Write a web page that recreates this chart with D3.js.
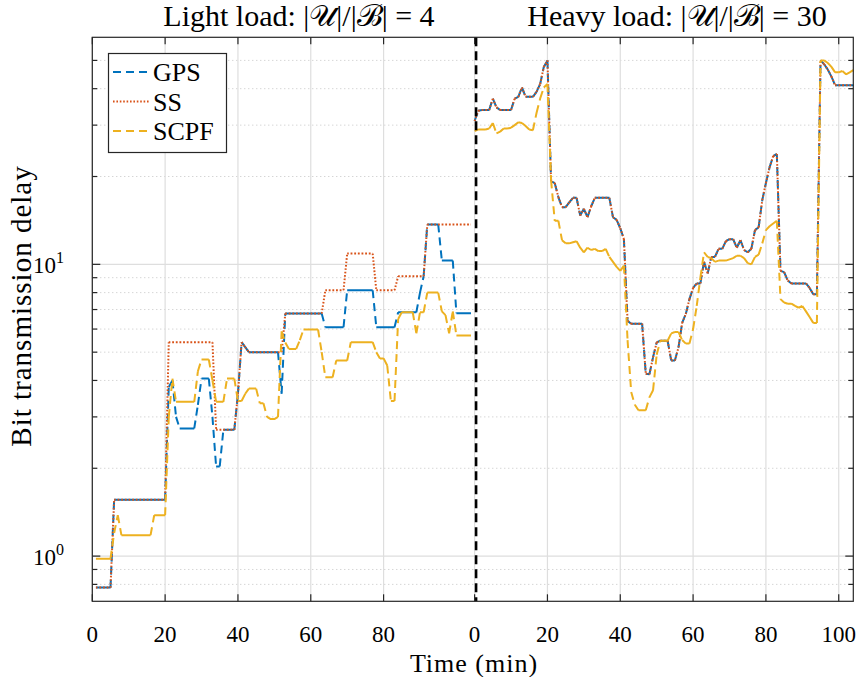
<!DOCTYPE html>
<html>
<head>
<meta charset="utf-8">
<script src="https://cdn.jsdelivr.net/npm/d3@7"></script>
<style>
body { margin: 0; background: #fff; }
svg text { font-family: "Liberation Serif", "DejaVu Serif", serif; fill: #000; }
</style>
</head>
<body>
<div id="chart"></div>
<script>
// one sample per minute; light load starts at t=1, heavy load at t=0
const lightStart = 1;
const heavyStart = 0;
const heavyOffset = 105;   // heavy load panel is drawn after the light one on a shared axis
const splitAt = 105.4;

const lightGPS = [0.78,0.78,0.78,0.78,0.78,
  1.56,1.56,1.56,1.56,1.56,1.56,1.56,1.56,1.56,1.56,1.56,1.56,1.56,1.56,1.56,
  3.8,4.0,3.0,2.74,2.74,2.74,2.74,2.74,3.3,4.06,4.06,4.06,3.0,2.03,2.03,
  2.71,2.71,2.71,2.71,3.6,5.41,5.2,5.0,5.0,5.0,5.0,5.0,5.0,5.0,5.0,5.0,3.6,
  6.78,6.78,6.78,6.78,6.78,6.78,6.78,6.78,6.78,6.78,6.78,
  6.09,6.09,6.09,6.09,6.09,6.09,8.15,8.15,8.15,8.15,8.15,8.15,8.15,8.15,
  6.09,6.09,6.09,6.09,6.09,6.09,6.85,6.85,6.85,6.85,6.85,6.85,8.0,9.1,
  13.7,13.7,13.7,13.7,10.3,10.3,10.3,10.3,6.8,6.8,6.8,6.8,6.8];

const lightSS = [0.78,0.78,0.78,0.78,0.78,
  1.56,1.56,1.56,1.56,1.56,1.56,1.56,1.56,1.56,1.56,1.56,1.56,1.56,1.56,1.56,
  5.41,5.41,5.41,5.41,5.41,5.41,5.41,5.41,5.41,5.41,5.41,5.41,5.41,
  2.71,2.71,2.71,2.71,2.71,2.71,3.6,5.41,5.2,
  5.0,5.0,5.0,5.0,5.0,5.0,5.0,5.0,5.0,5.0,
  6.78,6.78,6.78,6.78,6.78,6.78,6.78,6.78,6.78,6.78,6.78,
  8.15,8.15,8.15,8.15,8.15,8.15,10.89,10.89,10.89,10.89,10.89,10.89,10.89,10.89,
  8.15,8.15,8.15,8.15,8.15,8.15,9.1,9.1,9.1,9.1,9.1,9.1,9.1,9.1,
  13.7,13.7,13.7,13.7,13.7,13.7,13.7,13.7,13.7,13.7,13.7,13.7,13.7];

const lightSCPF = [0.98,0.98,0.98,0.98,0.98,1.2,1.38,
  1.18,1.18,1.18,1.18,1.18,1.18,1.18,1.18,1.18,1.38,1.38,1.38,1.38,
  3.0,4.06,3.38,3.38,3.38,3.38,3.38,3.38,4.3,4.72,4.72,4.72,4.0,3.38,3.38,3.38,
  4.06,4.06,4.06,3.4,3.4,3.6,3.75,3.75,3.75,3.34,3.34,3.0,2.95,2.95,3.0,
  5.9,5.4,5.13,5.13,5.13,5.5,5.98,5.98,5.98,5.98,5.98,5.0,4.1,4.1,4.1,
  4.68,4.68,4.68,4.68,5.41,5.41,5.41,5.41,5.41,5.41,5.41,5.0,4.76,4.76,4.5,
  3.4,3.4,6.5,6.85,6.85,6.85,6.85,5.8,6.85,6.85,8.0,8.0,8.0,8.0,
  6.9,6.7,5.8,6.9,5.7,5.7,5.7,5.7,5.7];

const heavyGPS = [31.0,33.6,33.8,33.8,33.8,37.0,34.5,33.8,33.8,33.8,33.8,37.0,37.5,40.4,37.5,37.5,37.5,39.0,41.5,47.5,
  50.0,19.3,19.0,17.0,15.7,15.7,16.3,16.9,16.9,14.7,15.5,14.5,15.8,16.9,16.9,16.9,16.9,16.9,14.5,14.2,
  13.3,12.2,6.4,6.26,6.26,6.26,6.26,4.22,4.2,4.8,5.4,5.47,5.47,5.47,4.68,4.68,5.2,6.3,6.76,7.6,
  8.3,8.6,8.6,10.2,9.3,10.6,10.6,11.3,11.3,12.0,12.2,12.2,11.4,12.1,11.2,11.0,11.3,13.1,13.4,16.6,
  19.0,21.5,23.5,23.9,9.5,9.4,8.8,8.6,8.6,8.6,8.6,8.6,8.3,7.9,7.9,50.0,48.5,46.5,44.0,41.1,
  41.1,41.1,41.1,41.1,41.1];

const heavySS = [31.0,33.6,33.8,33.8,33.8,37.0,34.5,33.8,33.8,33.8,33.8,37.0,37.5,40.4,37.5,37.5,37.5,39.0,41.5,47.5,
  50.0,19.3,19.0,17.0,15.7,15.7,16.3,16.9,16.9,14.7,15.5,14.5,15.8,16.9,16.9,16.9,16.9,16.9,14.5,14.2,
  13.3,12.2,6.4,6.26,6.26,6.26,6.26,4.22,4.2,4.8,5.4,5.47,5.47,5.47,4.68,4.68,5.2,6.3,6.76,7.6,
  8.3,8.6,8.6,10.2,9.3,10.6,10.6,11.3,11.3,12.0,12.2,12.2,11.4,12.1,11.2,11.0,11.3,13.1,13.4,16.6,
  19.0,21.5,23.5,23.9,9.5,9.4,8.8,8.6,8.6,8.6,8.6,8.6,8.3,7.9,7.9,50.0,48.5,46.5,44.0,41.1,
  41.1,41.1,41.1,41.1,41.1];

const heavySCPF = [28.6,29.0,29.0,29.0,29.2,30.5,28.1,28.5,29.2,29.2,29.4,30.0,30.7,30.5,29.8,29.0,28.8,33.0,37.0,40.4,
  41.5,19.4,14.1,14.1,12.1,11.8,11.8,11.9,12.0,11.4,11.0,11.4,11.2,11.3,11.1,11.1,11.3,10.6,10.2,9.8,
  9.5,9.9,5.5,3.65,3.3,3.16,3.16,3.16,3.5,3.7,4.9,5.47,5.47,5.47,5.8,5.86,5.86,5.5,5.35,5.35,
  6.0,7.2,9.0,11.0,10.6,10.5,10.2,10.3,10.3,10.3,10.4,10.5,10.7,10.7,10.5,10.1,10.0,10.6,10.8,11.8,
  13.1,13.5,13.8,14.1,7.6,7.4,7.33,7.33,7.2,7.1,7.2,6.9,6.6,6.3,6.3,50.0,50.0,49.0,47.5,45.5,
  45.5,46.0,44.8,45.5,46.3];

const seriesNames = ["GPS", "SS", "SCPF"];
const titles = ["Light load: |\u{1D4B0}|/|\u212C| = 4", "Heavy load: |\u{1D4B0}|/|\u212C| = 30"];
const xTicksLight = [0, 20, 40, 60, 80];
const xTicksHeavy = [0, 20, 40, 60, 80, 100];
const yMajor = [1, 10];
const yMinor = [0.8, 0.9, 2, 3, 4, 5, 6, 7, 8, 9, 20, 30, 40, 50];

const colors = { GPS: "#0072BD", SS: "#D95319", SCPF: "#EDB120" };
const dashes = { GPS: "8,5", SS: "1.6,1.8", SCPF: "8,5" };

const width = 857, height = 677;
const margin = { top: 37.3, right: 3.7, bottom: 75.7, left: 92.3 };

const svg = d3.select("#chart").append("svg")
  .attr("width", width)
  .attr("height", height);

svg.append("rect").attr("width", width).attr("height", height).attr("fill", "#fff");

const x = d3.scaleLinear().domain([0, 209]).range([margin.left, width - margin.right]);
const y = d3.scaleLog().domain([0.7, 60]).range([height - margin.bottom, margin.top]);

const x0 = margin.left, x1 = width - margin.right;
const y0 = height - margin.bottom, y1 = margin.top;

// grid
const xGrid = xTicksLight.map(d => d).concat(xTicksHeavy.map(d => d + heavyOffset));
svg.append("g").selectAll("line").data(yMinor).join("line")
  .attr("x1", x0).attr("x2", x1)
  .attr("y1", d => y(d)).attr("y2", d => y(d))
  .attr("stroke", "#c4c4c4").attr("stroke-width", 1)
  .attr("stroke-dasharray", "1,3");
svg.append("g").selectAll("line").data(yMajor).join("line")
  .attr("x1", x0).attr("x2", x1)
  .attr("y1", d => y(d)).attr("y2", d => y(d))
  .attr("stroke", "#dedede").attr("stroke-width", 1.2);
svg.append("g").selectAll("line").data(xGrid).join("line")
  .attr("x1", d => x(d)).attr("x2", d => x(d))
  .attr("y1", y0).attr("y2", y1)
  .attr("stroke", "#dedede").attr("stroke-width", 1.2);

// data lines: every segment is its own sub path so the dash pattern restarts
// on each step, like the matlab renderer does
const line = d3.line();
function segPath(vals, start, offset) {
  const pts = vals.map((v, i) => [x(start + i + offset), y(v)]);
  return d3.pairs(pts).map(p => line(p)).join("");
}

const series = [
  { name: "GPS", vals: lightGPS, start: lightStart, off: 0 },
  { name: "SS", vals: lightSS, start: lightStart, off: 0 },
  { name: "SCPF", vals: lightSCPF, start: lightStart, off: 0 },
  { name: "GPS", vals: heavyGPS, start: heavyStart, off: heavyOffset },
  { name: "SS", vals: heavySS, start: heavyStart, off: heavyOffset },
  { name: "SCPF", vals: heavySCPF, start: heavyStart, off: heavyOffset }
];
const order = ["GPS", "SS", "SCPF"];
series.sort((a, b) => order.indexOf(a.name) - order.indexOf(b.name));

svg.append("g").selectAll("path").data(series).join("path")
  .attr("d", d => segPath(d.vals, d.start, d.off))
  .attr("fill", "none")
  .attr("stroke", d => colors[d.name])
  .attr("stroke-width", 2)
  .attr("stroke-dasharray", d => dashes[d.name]);

// separator between the two load cases
svg.append("line")
  .attr("x1", x(splitAt)).attr("x2", x(splitAt))
  .attr("y1", y1).attr("y2", y0)
  .attr("stroke", "#000").attr("stroke-width", 2.6)
  .attr("stroke-dasharray", "9,5");

// axes box and ticks
const axisColor = "#262626";
svg.append("rect")
  .attr("x", x0).attr("y", y1).attr("width", x1 - x0).attr("height", y0 - y1)
  .attr("fill", "none").attr("stroke", axisColor).attr("stroke-width", 1.2);

const tickG = svg.append("g").attr("stroke", axisColor).attr("stroke-width", 1.2);
xGrid.forEach(d => {
  tickG.append("line").attr("x1", x(d)).attr("x2", x(d)).attr("y1", y0).attr("y2", y0 - 7);
  tickG.append("line").attr("x1", x(d)).attr("x2", x(d)).attr("y1", y1).attr("y2", y1 + 7);
});
yMajor.concat(yMinor).forEach(d => {
  const len = yMajor.includes(d) ? 8 : 5;
  tickG.append("line").attr("x1", x0).attr("x2", x0 + len).attr("y1", y(d)).attr("y2", y(d));
  tickG.append("line").attr("x1", x1).attr("x2", x1 - len).attr("y1", y(d)).attr("y2", y(d));
});

const xLabels = xTicksLight.map(d => ({ v: d, t: d }))
  .concat(xTicksHeavy.map(d => ({ v: d + heavyOffset, t: d })));
svg.append("g").selectAll("text").data(xLabels).join("text")
  .attr("x", d => x(d.v)).attr("y", 642)
  .attr("text-anchor", "middle")
  .attr("font-size", 23)
  .text(d => d.t);

const yl = svg.append("g").selectAll("text").data(yMajor).join("text")
  .attr("x", 64).attr("y", d => y(d) + 9)
  .attr("text-anchor", "end")
  .attr("font-size", 23);
yl.append("tspan").text("10");
yl.append("tspan").attr("dy", -10).attr("font-size", 16).text(d => Math.round(Math.log10(d)));

svg.append("text")
  .attr("x", 474).attr("y", 672)
  .attr("text-anchor", "middle")
  .attr("font-size", 26)
  .attr("letter-spacing", 1)
  .text("Time (min)");

svg.append("text")
  .attr("transform", "translate(31,306) rotate(-90)")
  .attr("text-anchor", "middle")
  .attr("font-size", 29)
  .attr("letter-spacing", 1)
  .text("Bit transmission delay");

svg.append("g").selectAll("text").data(titles).join("text")
  .attr("x", (d, i) => i === 0 ? 299 : 677)
  .attr("y", 26)
  .attr("text-anchor", "middle")
  .attr("font-size", 30)
  .text(d => d);

// legend
const lg = svg.append("g");
lg.append("rect")
  .attr("x", 108.5).attr("y", 53.5).attr("width", 118).attr("height", 99)
  .attr("fill", "#fff").attr("stroke", axisColor).attr("stroke-width", 1.2);
seriesNames.forEach((name, i) => {
  const ly = 72 + i * 29.5;
  lg.append("line")
    .attr("x1", 113).attr("x2", 150).attr("y1", ly).attr("y2", ly)
    .attr("stroke", colors[name]).attr("stroke-width", 2)
    .attr("stroke-dasharray", dashes[name]);
  lg.append("text")
    .attr("x", 153).attr("y", ly + 9)
    .attr("font-size", 26)
    .text(name);
});
</script>
</body>
</html>
